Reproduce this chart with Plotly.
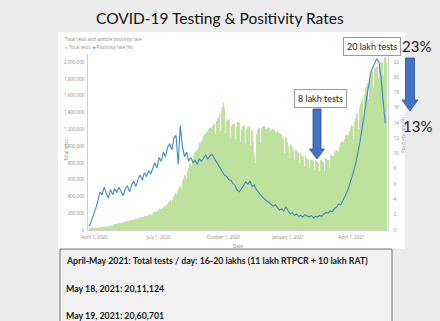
import pandas as pd
import plotly.graph_objects as go

# ---------------- data ----------------
title_text = "COVID-19 Testing & Positivity Rates"
chart_subtitle = "Total tests and sample positivity rate"
series_names = ["Total tests", "Positivity rate (%)"]

# daily total tests (thousands), starting 2020-03-25, one row per week (Wed..Tue)
tests_thousands = [
    12, 14, 15, 17, 16, 13, 19,
    21, 22, 24, 26, 25, 20, 28,
    29, 31, 30, 33, 32, 27, 35,
    38, 37, 40, 42, 41, 35, 45,
    48, 50, 53, 55, 52, 46, 58,
    62, 66, 69, 72, 70, 60, 75,
    80, 84, 86, 88, 85, 74, 90,
    94, 96, 99, 102, 98, 86, 105,
    108, 112, 115, 118, 114, 100, 122,
    125, 128, 131, 133, 128, 112, 136,
    139, 143, 146, 150, 144, 128, 152,
    156, 160, 164, 168, 162, 145, 170,
    175, 180, 186, 190, 184, 162, 196,
    205, 212, 218, 224, 216, 190, 230,
    236, 242, 248, 252, 245, 215, 262,
    268, 280, 290, 298, 286, 255, 310,
    322, 335, 345, 356, 340, 300, 360,
    375, 395, 420, 442, 430, 385, 460,
    470, 495, 515, 530, 505, 440, 560,
    580, 610, 640, 660, 625, 560, 690,
    710, 740, 770, 800, 760, 660, 830,
    850, 880, 905, 935, 890, 780, 950,
    960, 990, 1010, 1040, 990, 860, 1060,
    1080, 1100, 1120, 1150, 1070, 930, 1170,
    1180, 1200, 1160, 1220, 1100, 960, 1230,
    1240, 1260, 1200, 1280, 1150, 980, 1300,
    1320, 1350, 1260, 1400, 1180, 1000, 1420,
    1480, 1510, 1400, 1450, 1160, 980, 1300,
    1280, 1310, 1250, 1320, 1100, 950, 1240,
    1250, 1270, 1200, 1260, 1080, 920, 1230,
    1260, 1290, 1220, 1280, 1060, 900, 1200,
    1220, 1240, 1180, 1250, 1040, 880, 1180,
    1200, 1230, 1170, 1240, 1020, 860, 1190,
    1180, 1150, 1050, 900, 800, 780, 1100,
    1150, 1200, 1160, 1220, 1050, 900, 1180,
    1220, 1230, 1180, 1240, 1060, 920, 1200,
    1210, 1230, 1170, 1220, 1040, 900, 1180,
    1190, 1200, 1150, 1190, 1010, 880, 1160,
    1170, 1180, 1120, 1160, 980, 850, 1140,
    1120, 1100, 1050, 1080, 920, 800, 1100,
    1080, 1050, 970, 1000, 860, 750, 1020,
    1000, 990, 950, 960, 840, 720, 970,
    950, 930, 900, 920, 800, 690, 920,
    900, 880, 850, 870, 760, 660, 880,
    860, 850, 820, 840, 740, 640, 850,
    840, 830, 800, 820, 720, 620, 830,
    820, 810, 790, 800, 700, 610, 820,
    830, 820, 800, 810, 710, 620, 840,
    860, 850, 830, 840, 740, 650, 880,
    900, 890, 870, 880, 780, 690, 920,
    960, 950, 920, 940, 830, 740, 990,
    1040, 1060, 1030, 1050, 920, 810, 1080,
    1120, 1140, 1100, 1130, 980, 860, 1170,
    1220, 1250, 1210, 1240, 1080, 950, 1300,
    1340, 1380, 1350, 1400, 1200, 1050, 1450,
    1500, 1540, 1520, 1570, 1360, 1200, 1620,
    1650, 1690, 1720, 1760, 1560, 1400, 1780,
    1800, 1850, 1880, 1900, 1700, 1500, 1920,
    1930, 1950, 1940, 1960, 1800, 1640, 1980,
    1990, 2000, 1970, 1990, 1850, 1700, 2011,
    2061, 2000,
]
tests_start = "2020-03-25"

# positivity rate (%), every 3 days starting 2020-03-25
positivity = [
    0.5, 1.2, 2.0, 2.8, 3.8, 5.0, 4.6, 5.6, 4.8, 4.2, 5.3, 4.6, 5.4, 4.9, 5.6,
    5.1, 4.5, 5.4, 5.8, 5.0, 5.9, 6.4, 5.7, 6.6, 7.2, 6.5, 7.5, 7.0, 7.8, 7.3,
    8.2, 8.8, 8.1, 9.5, 9.0, 10.2, 9.6, 10.8, 11.3, 10.5, 12.0, 12.4, 8.6, 13.6,
    11.0, 9.6, 10.2, 9.0, 9.5, 8.8, 9.1, 8.6, 9.3, 9.0, 9.4, 9.8, 9.3, 9.7, 9.9,
    9.4, 8.9, 8.5, 8.0, 7.6, 7.2, 7.0, 6.6, 6.5, 6.1, 5.8, 5.2, 5.0, 5.4, 5.8,
    6.3, 6.0, 6.4, 5.7, 5.9, 5.3, 4.9, 4.6, 4.3, 4.0, 3.8, 3.6, 3.3, 3.1, 3.3,
    2.9, 2.6, 2.8, 2.5, 3.0, 2.6, 2.1, 2.3, 1.9, 2.1, 1.8, 1.9, 1.7, 2.0, 1.8,
    1.7, 1.9, 1.6, 1.8, 1.7, 1.9, 1.8, 2.1, 2.3, 2.2, 2.5, 2.4, 2.8, 3.0, 3.4,
    3.3, 3.8, 4.3, 5.0, 5.8, 6.6, 7.6, 8.7, 10.0, 11.4, 13.2, 15.0, 17.2, 18.8,
    20.4, 21.2, 21.8, 22.4, 22.0, 20.0, 17.0, 14.0,
]
positivity_start = "2020-03-25"

x_tick_dates = ["2020-04-01", "2020-07-01", "2020-10-01", "2021-01-01", "2021-04-01"]
x_tick_labels = ["April 1, 2020", "July 1, 2020", "October 1, 2020", "January 1, 2021", "April 1, 2021"]
y_tick_vals = [0, 200000, 400000, 600000, 800000, 1000000, 1200000, 1400000, 1600000, 1800000, 2000000]
y2_tick_vals = [0, 2, 4, 6, 8, 10, 12, 14, 16, 18, 20, 22]

callout_low = "8 lakh tests"
callout_high = "20 lakh tests"
pct_high = "23%"
pct_low = "13%"
note_lines = [
    "April-May 2021: Total tests / day: 16-20 lakhs (11 lakh RTPCR + 10 lakh RAT)",
    "May 18, 2021: 20,11,124",
    "May 19, 2021: 20,60,701",
]

# ---------------- figure ----------------
W, H = 440, 321
L, R, T, B = 88, 388, 54, 230


def fx(px):
    return (px - L) / (R - L)


def fy(py):
    return (B - py) / (B - T)


test_dates = pd.date_range(tests_start, periods=len(tests_thousands), freq="D")
pos_dates = pd.date_range(positivity_start, periods=len(positivity), freq="3D")

GREEN = "#b3dc8e"
BLUE = "#3f89c4"
ARROW = "#4472c4"
TICK = "#8a8a8a"

fig = go.Figure()
fig.add_trace(go.Bar(
    x=test_dates, y=[v * 1000 for v in tests_thousands], name=series_names[0],
    marker=dict(color=GREEN, line=dict(width=0)), opacity=0.85,
    width=86400000 * 0.6, yaxis="y",
))
fig.add_trace(go.Scatter(
    x=pos_dates, y=positivity, name=series_names[1], mode="lines",
    line=dict(color=BLUE, width=1.1), yaxis="y2",
))

small = dict(family="Open Sans", size=4.5, color=TICK)

fig.update_layout(
    width=W, height=H, autosize=False,
    margin=dict(l=L, r=W - R, t=T, b=H - B, pad=0),
    paper_bgcolor="#ececec", plot_bgcolor="rgba(0,0,0,0)",
    showlegend=False, bargap=0,
    xaxis=dict(type="date", range=["2020-03-23", "2021-05-23"],
               tickvals=x_tick_dates, ticktext=x_tick_labels, tickfont=small,
               showgrid=False, zeroline=False, showline=True, linecolor="#d0d0d0",
               linewidth=0.6, ticks="", ticklabelstandoff=3),
    yaxis=dict(range=[0, 2100000], tickvals=y_tick_vals, tickformat=",",
               tickfont=small, showgrid=False, zeroline=False, showline=True,
               linecolor="#d0d0d0", linewidth=0.6, ticks="", ticklabelstandoff=2),
    yaxis2=dict(range=[0, 23.04], tickvals=y2_tick_vals, overlaying="y", side="right",
                tickfont=small, showgrid=False, zeroline=False, showline=True,
                linecolor="#d0d0d0", linewidth=0.6, ticks="", ticklabelstandoff=4),
)

shapes = [
    # white chart image behind the plot
    dict(type="rect", xref="paper", yref="paper", x0=fx(58), x1=fx(405), y0=fy(249), y1=fy(32),
         fillcolor="white", line=dict(width=0), layer="below"),
    # bottom text box
    dict(type="rect", xref="paper", yref="paper", x0=fx(60), x1=fx(392), y0=fy(335), y1=fy(249),
         fillcolor="#f1f1f1", line=dict(color="#707070", width=1), layer="above"),
]


def down_arrow(cx, y_top, y_head, y_tip, shaft_w, head_w):
    pts = [
        (cx - shaft_w / 2, y_top), (cx + shaft_w / 2, y_top), (cx + shaft_w / 2, y_head),
        (cx + head_w / 2, y_head), (cx, y_tip), (cx - head_w / 2, y_head),
        (cx - shaft_w / 2, y_head),
    ]
    path = "M " + " L ".join(f"{fx(a):.5f},{fy(b):.5f}" for a, b in pts) + " Z"
    return dict(type="path", xref="paper", yref="paper", path=path,
                fillcolor=ARROW, line=dict(color="#2f528f", width=0.8), layer="above")


shapes.append(down_arrow(317, 109, 149, 159, 8, 15))
shapes.append(down_arrow(410, 58, 100, 111, 9, 16))


def note(text, px, py, font, anchor="center", **kw):
    return dict(text=text, x=fx(px), y=fy(py), xref="paper", yref="paper",
                showarrow=False, xanchor=anchor, yanchor="middle", font=font, **kw)


ann = [
    note(title_text, 220, 18, dict(family="Lato", size=15.5, color="#111111")),
    note(chart_subtitle, 63, 39, small, "left"),
    note(f"<span style='color:{GREEN}'>●</span> {series_names[0]}  "
         f"<span style='color:{BLUE}'>●</span> {series_names[1]}", 63, 47, small, "left"),
    note("Total tests", 66, 150, small, textangle=-90),
    note("Positivity rate (%)", 403, 135, small, textangle=-90),
    note("Date", 238, 246, small),
    note(callout_low, 320, 98, dict(family="Lato", size=9, color="#222"),
         bgcolor="white", bordercolor="#9a9a9a", borderwidth=1, borderpad=3),
    note(callout_high, 372, 46, dict(family="Lato", size=9, color="#222"),
         bgcolor="white", bordercolor="#9a9a9a", borderwidth=1, borderpad=3),
    note(pct_high, 416, 46, dict(family="Lato", size=15, color="#222")),
    note(pct_low, 417, 126, dict(family="Lato", size=15, color="#222")),
]
for txt, py in zip(note_lines, [260, 288, 315]):
    ann.append(note(f"<b>{txt}</b>", 64, py, dict(family="Lato", size=8.8, color="#1a1a1a"), "left"))

fig.update_layout(shapes=shapes, annotations=ann)
fig.write_html("out.html")
